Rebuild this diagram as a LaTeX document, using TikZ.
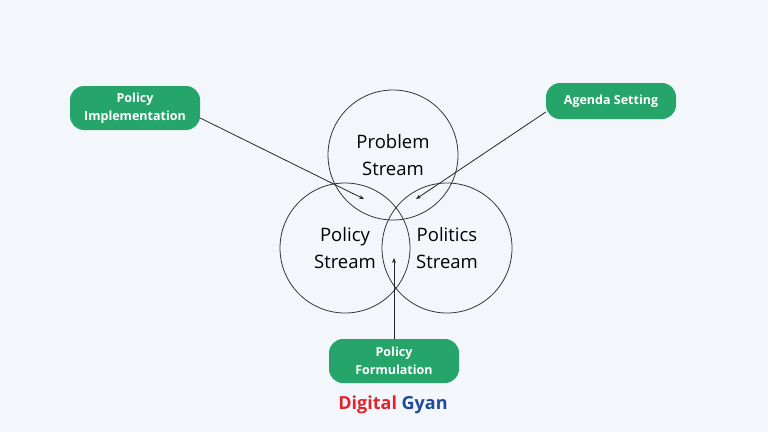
\documentclass[tikz,border=0pt]{standalone}
\usepackage{fontspec}
\setmainfont{Open Sans}
\usetikzlibrary{positioning,arrows.meta}
\definecolor{bgblue}{HTML}{F3F7FC}
\definecolor{tagreen}{HTML}{25A56A}
\definecolor{gyred}{HTML}{E0242E}
\definecolor{gyblue}{HTML}{1E4A9C}
\tikzset{
  stream/.style={circle, draw=black!80, line width=0.8pt, minimum size=130pt, align=center, font=\fontsize{18.5}{27}\selectfont},
  stage/.style={rectangle, rounded corners=14pt, fill=tagreen, text=white, align=center, font=\bfseries\fontsize{12.5}{18}\selectfont, minimum height=36pt},
  line/.style={draw=black!85, line width=0.8pt, -{Stealth[length=5pt,width=4pt]}}
}
\begin{document}
\begin{tikzpicture}[x=1pt,y=-1pt]
	\fill[bgblue] (0,0) rectangle (768,432);
	\useasboundingbox (0,0) rectangle (768,432);
	%Place circles
	\node [stream] (Problem) at (393,155) {Problem\\Stream};
	\node [stream] (Policy) at (345,248) {Policy\\Stream};
	\node [stream] (Politics) at (447,248) {Politics\\Stream};
	%Place stages
	\node [stage, minimum width=130pt, minimum height=44pt] (Implementation) at (135,108) {Policy\\Implementation};
	\node [stage, minimum width=130pt] (Agenda) at (611,101) {Agenda Setting};
	\node [stage, minimum width=130pt, minimum height=44pt] (Formulation) at (394,361) {Policy\\Formulation};
	\node (Logo) at (393,405) {\bfseries\fontsize{18}{20}\selectfont\textcolor{gyred}{Digital} \textcolor{gyblue}{Gyan}};
	\coordinate (ImpEnd) at (364,199);
	\coordinate (AgeEnd) at (416,199);
	\coordinate (ForEnd) at (394,258);
	
	\path [line] (Implementation.east) ++(0,10) -- (ImpEnd);
	\path [line] (Agenda.west) ++(0,11) -- (AgeEnd);
	\path [line] (Formulation.north) -- (ForEnd);
\end{tikzpicture}
\end{document}
